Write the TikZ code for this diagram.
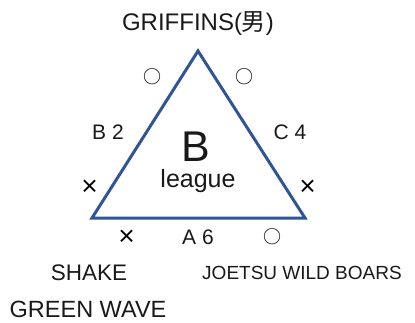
\documentclass[tikz,border=0pt]{standalone}
\usepackage{fontspec}
\setmainfont{Liberation Sans}
\newfontfamily\cjk{Noto Sans CJK JP}
\newfontfamily\cjkb{Noto Sans CJK JP Bold}
\definecolor{triblue}{HTML}{2F5597}
\begin{document}
\begin{tikzpicture}[x=1pt,y=-1pt,
  lbl/.style={inner sep=0pt,anchor=center,text=black!90},
  mk/.style={inner sep=0pt,anchor=center,font=\cjk\fontsize{18}{18}\selectfont},
  mkx/.style={inner sep=0pt,anchor=center,font=\cjkb\fontsize{19}{19}\selectfont}]
\useasboundingbox (0,0) rectangle (415,322);
\coordinate (top) at (198,51);
\coordinate (bl) at (92,218);
\coordinate (br) at (305,218);
\draw[triblue,line width=3pt,line join=miter] (top) -- (bl) -- (br) -- cycle;
\node[lbl,font=\fontsize{24}{24}\selectfont] (griffins) at (198,24) {GRIFFINS({\cjk 男})};
\node[mk] (o1) at (152,77) {○};
\node[mk] (o2) at (244,77) {○};
\node[lbl,font=\fontsize{21}{21}\selectfont] (b2) at (108,132) {B 2};
\node[lbl,font=\fontsize{21}{21}\selectfont] (c4) at (290,132) {C 4};
\node[lbl,font=\fontsize{43}{43}\selectfont] (bigb) at (196,147) {B};
\node[lbl,font=\fontsize{25}{25}\selectfont] (league) at (198,181) {league};
\node[mkx] (x1) at (90,187) {×};
\node[mkx] (x2) at (308,187) {×};
\node[mkx] (x3) at (127,237) {×};
\node[lbl,font=\fontsize{21}{21}\selectfont] (a6) at (198,237) {A 6};
\node[mk] (o3) at (272,237) {○};
\node[lbl,font=\fontsize{22.5}{22.5}\selectfont] (shake) at (89,273) {SHAKE};
\node[lbl,font=\fontsize{19}{19}\selectfont] (joetsu) at (302,273) {JOETSU WILD BOARS};
\node[lbl,font=\fontsize{23.5}{23.5}\selectfont] (green) at (88,309) {GREEN WAVE};
\end{tikzpicture}
\end{document}
